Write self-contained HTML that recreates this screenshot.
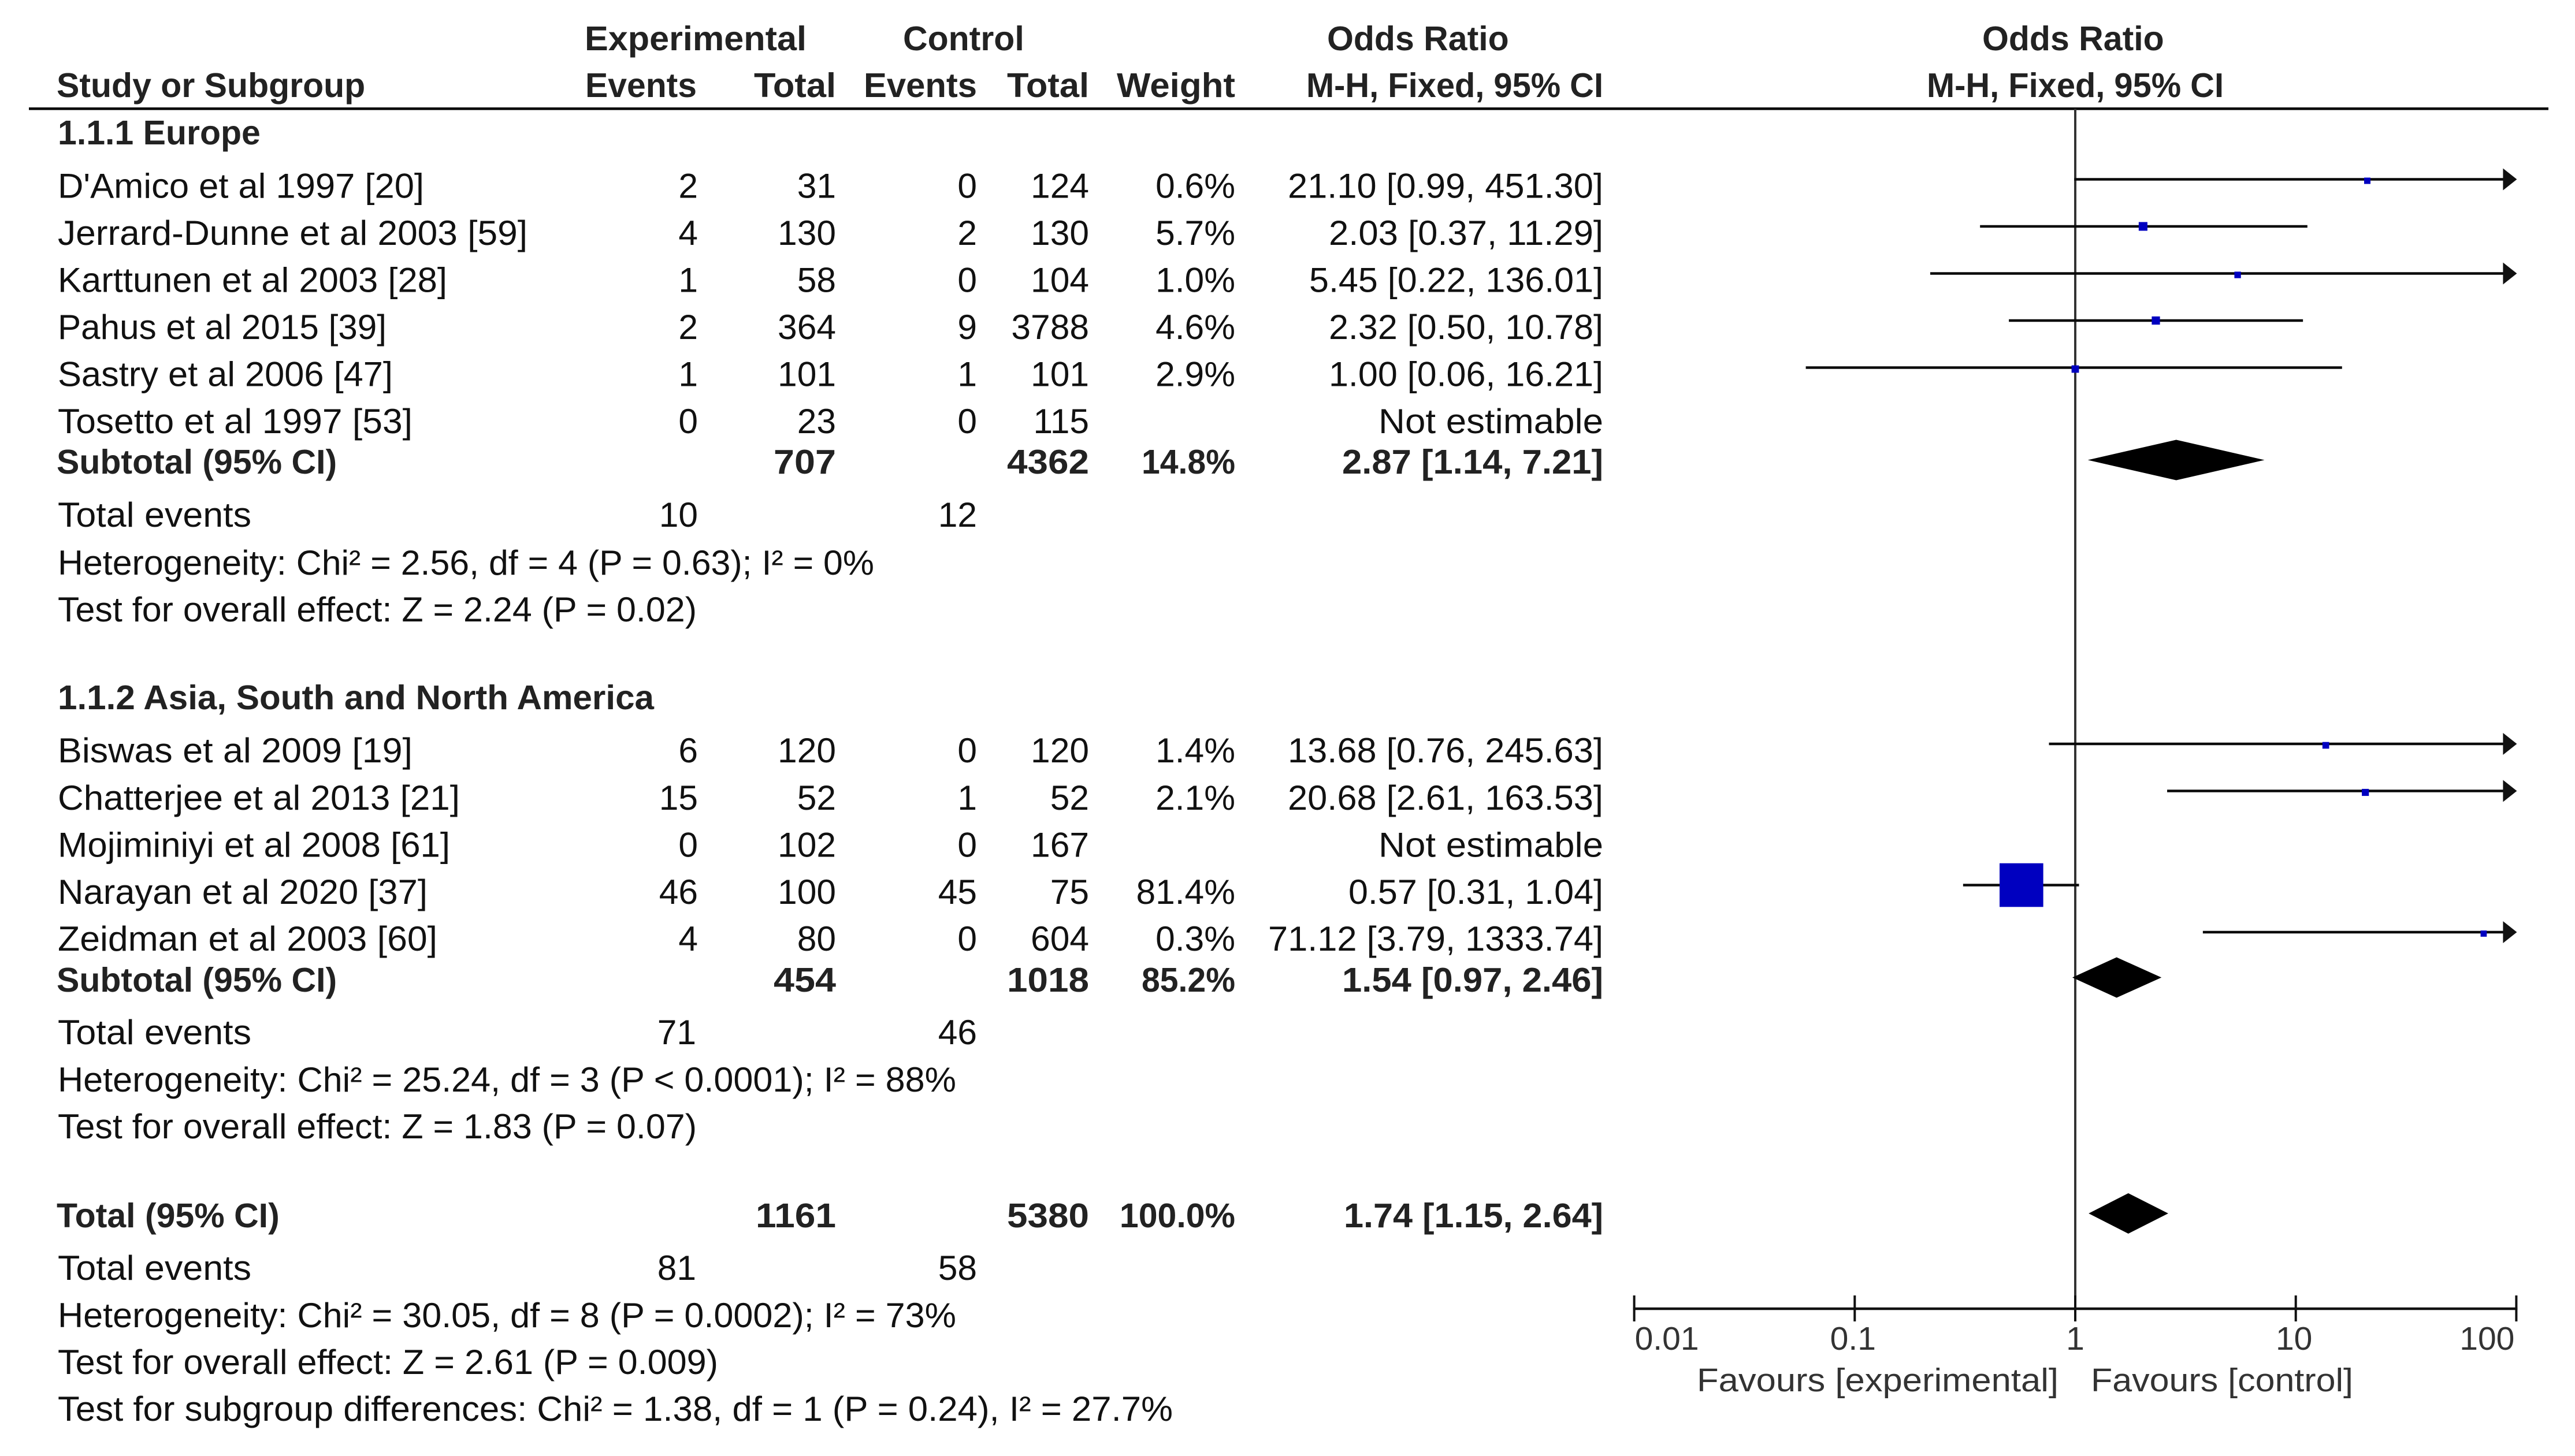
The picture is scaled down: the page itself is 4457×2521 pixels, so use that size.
<!DOCTYPE html>
<html lang="en">
<head>
<meta charset="utf-8">
<title>Forest plot of odds ratios</title>
<style>
html,body{margin:0;padding:0;background:#fff;}
svg{display:block;}
text{font-family:"Liberation Sans",Arial,sans-serif;font-size:60.5px;fill:#111;}
.b{font-weight:bold;font-size:59px;fill:#222;}
.r{text-anchor:end;}
.ax{font-size:57px;fill:#333;}
</style>
</head>
<body>
<svg id="chart" xmlns="http://www.w3.org/2000/svg" width="4457" height="2521" viewBox="0 0 4457 2521">
<rect x="0" y="0" width="4457" height="2521" fill="#fff"/>

<g>
<text class="b" x="1012" y="87" textLength="384">Experimental</text>
<text class="b" x="1563" y="87">Control</text>
<text class="b" x="2297" y="87">Odds Ratio</text>
<text class="b" x="3431" y="87">Odds Ratio</text>
<text class="b" x="98" y="168">Study or Subgroup</text>
<text class="b r" x="1206" y="168" textLength="193">Events</text>
<text class="b r" x="1447" y="168" textLength="142">Total</text>
<text class="b r" x="1691" y="168" textLength="196">Events</text>
<text class="b r" x="1885" y="168" textLength="142">Total</text>
<text class="b r" x="2138" y="168" textLength="205">Weight</text>
<text class="b r" x="2775" y="168" textLength="514">M-H, Fixed, 95% CI</text>
<text class="b r" x="3849" y="168" textLength="514">M-H, Fixed, 95% CI</text>
<rect x="50" y="186" width="4361" height="4.5" fill="#000"/>
</g>

<g>
<text class="b" x="100" y="250">1.1.1 Europe</text>

<text x="100" y="342.5" textLength="634">D'Amico et al 1997 [20]</text>
<text class="r" x="1208" y="342.5">2</text>
<text class="r" x="1447" y="342.5">31</text>
<text class="r" x="1691" y="342.5">0</text>
<text class="r" x="1885" y="342.5">124</text>
<text class="r" x="2138" y="342.5">0.6%</text>
<text class="r" x="2775" y="342.5" textLength="546">21.10 [0.99, 451.30]</text>

<text x="100" y="424" textLength="813">Jerrard-Dunne et al 2003 [59]</text>
<text class="r" x="1208" y="424">4</text>
<text class="r" x="1447" y="424">130</text>
<text class="r" x="1691" y="424">2</text>
<text class="r" x="1885" y="424">130</text>
<text class="r" x="2138" y="424">5.7%</text>
<text class="r" x="2775" y="424" textLength="475">2.03 [0.37, 11.29]</text>

<text x="100" y="505.5" textLength="674">Karttunen et al 2003 [28]</text>
<text class="r" x="1208" y="505.5">1</text>
<text class="r" x="1447" y="505.5">58</text>
<text class="r" x="1691" y="505.5">0</text>
<text class="r" x="1885" y="505.5">104</text>
<text class="r" x="2138" y="505.5">1.0%</text>
<text class="r" x="2775" y="505.5" textLength="509">5.45 [0.22, 136.01]</text>

<text x="100" y="587" textLength="569">Pahus et al 2015 [39]</text>
<text class="r" x="1208" y="587">2</text>
<text class="r" x="1447" y="587">364</text>
<text class="r" x="1691" y="587">9</text>
<text class="r" x="1885" y="587">3788</text>
<text class="r" x="2138" y="587">4.6%</text>
<text class="r" x="2775" y="587" textLength="475">2.32 [0.50, 10.78]</text>

<text x="100" y="668.5" textLength="580">Sastry et al 2006 [47]</text>
<text class="r" x="1208" y="668.5">1</text>
<text class="r" x="1447" y="668.5">101</text>
<text class="r" x="1691" y="668.5">1</text>
<text class="r" x="1885" y="668.5">101</text>
<text class="r" x="2138" y="668.5">2.9%</text>
<text class="r" x="2775" y="668.5" textLength="475">1.00 [0.06, 16.21]</text>

<text x="100" y="750" textLength="614">Tosetto et al 1997 [53]</text>
<text class="r" x="1208" y="750">0</text>
<text class="r" x="1447" y="750">23</text>
<text class="r" x="1691" y="750">0</text>
<text class="r" x="1885" y="750">115</text>
<text class="r" x="2775" y="750" textLength="389">Not estimable</text>

<text class="b" x="98" y="820">Subtotal (95% CI)</text>
<text class="b r" x="1447" y="820" textLength="108">707</text>
<text class="b r" x="1885" y="820" textLength="142">4362</text>
<text class="b r" x="2138" y="820" textLength="162">14.8%</text>
<text class="b r" x="2775" y="820" textLength="452">2.87 [1.14, 7.21]</text>

<text x="100" y="912" textLength="335">Total events</text>
<text class="r" x="1208" y="912">10</text>
<text class="r" x="1691" y="912">12</text>
<text x="100" y="995" textLength="1413">Heterogeneity: Chi² = 2.56, df = 4 (P = 0.63); I² = 0%</text>
<text x="100" y="1076" textLength="1106">Test for overall effect: Z = 2.24 (P = 0.02)</text>
</g>

<g>
<text class="b" x="100" y="1228" textLength="1032">1.1.2 Asia, South and North America</text>

<text x="100" y="1320" textLength="614">Biswas et al 2009 [19]</text>
<text class="r" x="1208" y="1320">6</text>
<text class="r" x="1447" y="1320">120</text>
<text class="r" x="1691" y="1320">0</text>
<text class="r" x="1885" y="1320">120</text>
<text class="r" x="2138" y="1320">1.4%</text>
<text class="r" x="2775" y="1320" textLength="546">13.68 [0.76, 245.63]</text>

<text x="100" y="1402" textLength="696">Chatterjee et al 2013 [21]</text>
<text class="r" x="1208" y="1402">15</text>
<text class="r" x="1447" y="1402">52</text>
<text class="r" x="1691" y="1402">1</text>
<text class="r" x="1885" y="1402">52</text>
<text class="r" x="2138" y="1402">2.1%</text>
<text class="r" x="2775" y="1402" textLength="546">20.68 [2.61, 163.53]</text>

<text x="100" y="1483.5" textLength="679">Mojiminiyi et al 2008 [61]</text>
<text class="r" x="1208" y="1483.5">0</text>
<text class="r" x="1447" y="1483.5">102</text>
<text class="r" x="1691" y="1483.5">0</text>
<text class="r" x="1885" y="1483.5">167</text>
<text class="r" x="2775" y="1483.5" textLength="389">Not estimable</text>

<text x="100" y="1565" textLength="640">Narayan et al 2020 [37]</text>
<text class="r" x="1208" y="1565">46</text>
<text class="r" x="1447" y="1565">100</text>
<text class="r" x="1691" y="1565">45</text>
<text class="r" x="1885" y="1565">75</text>
<text class="r" x="2138" y="1565">81.4%</text>
<text class="r" x="2775" y="1565" textLength="441">0.57 [0.31, 1.04]</text>

<text x="100" y="1646" textLength="657">Zeidman et al 2003 [60]</text>
<text class="r" x="1208" y="1646">4</text>
<text class="r" x="1447" y="1646">80</text>
<text class="r" x="1691" y="1646">0</text>
<text class="r" x="1885" y="1646">604</text>
<text class="r" x="2138" y="1646">0.3%</text>
<text class="r" x="2775" y="1646" textLength="580">71.12 [3.79, 1333.74]</text>

<text class="b" x="98" y="1717">Subtotal (95% CI)</text>
<text class="b r" x="1447" y="1717" textLength="108">454</text>
<text class="b r" x="1885" y="1717" textLength="142">1018</text>
<text class="b r" x="2138" y="1717" textLength="162">85.2%</text>
<text class="b r" x="2775" y="1717" textLength="452">1.54 [0.97, 2.46]</text>

<text x="100" y="1808" textLength="335">Total events</text>
<text class="r" x="1205" y="1808">71</text>
<text class="r" x="1691" y="1808">46</text>
<text x="100" y="1890" textLength="1555">Heterogeneity: Chi² = 25.24, df = 3 (P &lt; 0.0001); I² = 88%</text>
<text x="100" y="1971" textLength="1106">Test for overall effect: Z = 1.83 (P = 0.07)</text>
</g>

<g>
<text class="b" x="98" y="2125">Total (95% CI)</text>
<text class="b r" x="1447" y="2125" textLength="139">1161</text>
<text class="b r" x="1885" y="2125" textLength="142">5380</text>
<text class="b r" x="2138" y="2125">100.0%</text>
<text class="b r" x="2775" y="2125" textLength="449">1.74 [1.15, 2.64]</text>
<text x="100" y="2216" textLength="335">Total events</text>
<text class="r" x="1205" y="2216">81</text>
<text class="r" x="1691" y="2216">58</text>
<text x="100" y="2298" textLength="1555">Heterogeneity: Chi² = 30.05, df = 8 (P = 0.0002); I² = 73%</text>
<text x="100" y="2379" textLength="1143">Test for overall effect: Z = 2.61 (P = 0.009)</text>
<text x="100" y="2460" textLength="1930">Test for subgroup differences: Chi² = 1.38, df = 1 (P = 0.24), I² = 27.7%</text>
</g>

<g id="plot"></g>

<text class="ax" x="2937" y="2409" textLength="626">Favours [experimental]</text>
<text class="ax" x="3619" y="2409" textLength="454">Favours [control]</text>
</svg>

<script>
// Study-level data, subgroup 1.1.1 Europe
const europeOR = [21.10, 2.03, 5.45, 2.32, 1.00, null];
const europeLow = [0.99, 0.37, 0.22, 0.50, 0.06, null];
const europeHigh = [451.30, 11.29, 136.01, 10.78, 16.21, null];
const europeWeight = [0.6, 5.7, 1.0, 4.6, 2.9, null];

// Study-level data, subgroup 1.1.2 Asia, South and North America
const asiaOR = [13.68, 20.68, null, 0.57, 71.12];
const asiaLow = [0.76, 2.61, null, 0.31, 3.79];
const asiaHigh = [245.63, 163.53, null, 1.04, 1333.74];
const asiaWeight = [1.4, 2.1, null, 81.4, 0.3];

// Pooled estimates: Europe subtotal, Asia/Americas subtotal, overall
const summaryOR = [2.87, 1.54, 1.74];
const summaryLow = [1.14, 0.97, 1.15];
const summaryHigh = [7.21, 2.46, 2.64];

// Axis
const tickValues = [0.01, 0.1, 1, 10, 100];
const tickLabels = ['0.01', '0.1', '1', '10', '100'];

const NS = 'http://www.w3.org/2000/svg';
const plot = document.getElementById('plot');

document.querySelectorAll('text[textLength]').forEach(function (t) {
  t.setAttribute('lengthAdjust', 'spacingAndGlyphs');
});

const AXIS_ONE_X = 3592;
const DECADE_PX = 381.7;
const AXIS_Y = 2266;
const ROW_STEP = 81.5;
const EUROPE_TOP = 310.5;
const ASIA_TOP = 1288;
const SUBTOTAL_GAP = 78.5;
const TOTAL_GAP = 408.5;

function xScale(v) {
  return AXIS_ONE_X + DECADE_PX * Math.log10(v);
}
const X_MAX = xScale(tickValues[tickValues.length - 1]);
const X_MIN = xScale(tickValues[0]);

function make(tag, attrs) {
  const el = document.createElementNS(NS, tag);
  for (const k in attrs) el.setAttribute(k, attrs[k]);
  plot.appendChild(el);
  return el;
}

// null line
const nullLine = make('line', {x1: xScale(1), x2: xScale(1), y1: 188, y2: AXIS_Y + 22, stroke: '#333', 'stroke-width': 4});



// x axis
const axisLine = make('line', {x1: X_MIN - 2, x2: X_MAX + 2, y1: AXIS_Y, y2: AXIS_Y, stroke: '#111', 'stroke-width': 4.5});



tickValues.forEach(function (v, i) {
  const x = xScale(v);
  const tick = make('line', {x1: x, x2: x, y1: AXIS_Y - 23, y2: AXIS_Y + 22, stroke: '#111', 'stroke-width': 4});
  
  
  const first = i === 0;
  const last = i === tickValues.length - 1;
  const label = make('text', {
    x: first ? x + 1 : last ? x - 3 : v === 1 ? x : x - 3,
    y: AXIS_Y + 71,
    class: 'ax',
    'text-anchor': first ? 'start' : last ? 'end' : 'middle'
  });
  
  
  label.textContent = tickLabels[i];
});

// study rows
function drawStudies(top, ors, lows, highs, weights) {
  ors.forEach(function (or, i) {
    if (or === null) return;
    const y = top + i * ROW_STEP;
    const x1 = Math.max(X_MIN, xScale(lows[i]));
    const clipped = highs[i] > tickValues[tickValues.length - 1];
    const x2 = clipped ? X_MAX - 2 : xScale(highs[i]);
    const ci = make('line', {x1: x1, x2: x2, y1: y, y2: y, stroke: '#0a0a0a', 'stroke-width': 4.5});
    
    
    if (clipped) {
      const arrow = make('polygon', {
        points: (X_MAX - 23) + ',' + (y - 19) + ' ' + (X_MAX + 1) + ',' + y + ' ' + (X_MAX - 23) + ',' + (y + 19),
        fill: '#111'
      });
      
      
    }
    const size = 10.5 + 0.8 * weights[i];
    const offset = size < 13 ? 2.5 : 0;
    const box = make('rect', {
      x: xScale(or) - size / 2,
      y: y + offset - size / 2,
      width: size,
      height: size,
      fill: '#0000c0'
    });
    
    
  });
}
drawStudies(EUROPE_TOP, europeOR, europeLow, europeHigh, europeWeight);
drawStudies(ASIA_TOP, asiaOR, asiaLow, asiaHigh, asiaWeight);

// pooled diamonds
const subtotalOneY = EUROPE_TOP + (europeOR.length - 1) * ROW_STEP + SUBTOTAL_GAP;
const subtotalTwoY = ASIA_TOP + (asiaOR.length - 1) * ROW_STEP + SUBTOTAL_GAP;
const summaryY = [subtotalOneY, subtotalTwoY, subtotalTwoY + TOTAL_GAP];
summaryOR.forEach(function (or, i) {
  const y = summaryY[i];
  const pts = [
    xScale(summaryLow[i]) + ',' + y,
    xScale(or) + ',' + (y - 35),
    xScale(summaryHigh[i]) + ',' + y,
    xScale(or) + ',' + (y + 35)
  ].join(' ');
  const d = make('polygon', {points: pts, fill: '#000'});
  
  
});
</script>
</body>
</html>
